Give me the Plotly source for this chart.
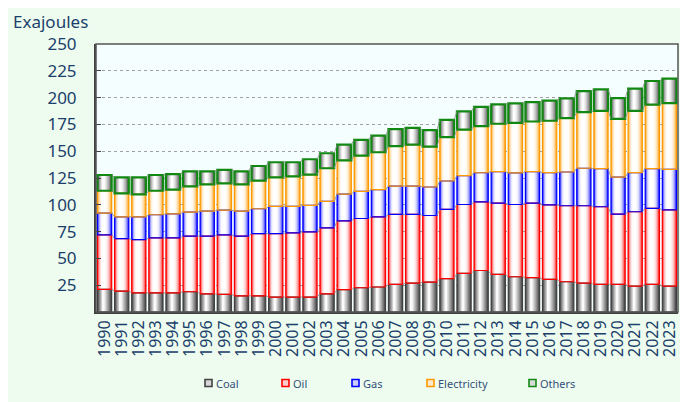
import plotly.graph_objects as go
import numpy as np

years = list(range(1990, 2024))
year_labels = [str(y) for y in years]

coal = [21.1, 19.5, 17.9, 17.9, 17.9, 18.9, 17.0, 16.4, 15.1, 15.1, 13.9, 13.9, 13.9, 17.0, 20.8, 22.6, 23.3,
        25.7, 27.0, 27.9, 31.1, 36.0, 38.7, 35.1, 32.9, 32.0, 30.4, 28.2, 27.0, 25.7, 25.7, 24.2, 25.7, 24.2]
oil = [50.8, 49.0, 49.7, 51.2, 51.2, 51.8, 53.7, 55.5, 55.6, 58.1, 59.3, 59.9, 60.8, 61.5, 64.2, 64.6, 65.5,
       65.3, 64.0, 62.1, 64.6, 64.3, 64.1, 66.5, 67.4, 69.6, 69.6, 70.9, 72.1, 72.5, 65.6, 69.3, 70.9, 71.1]
gas = [20.3, 20.3, 21.2, 21.6, 22.5, 22.5, 23.4, 23.1, 23.4, 23.1, 25.3, 24.7, 24.7, 24.7, 25.0, 25.3, 25.3,
       26.5, 26.5, 26.6, 26.5, 26.9, 27.1, 29.3, 29.4, 29.3, 30.0, 31.5, 35.0, 35.5, 34.6, 36.5, 37.1, 37.8]
electricity = [20.9, 21.8, 20.9, 22.4, 22.5, 24.0, 25.0, 25.0, 25.0, 26.2, 27.1, 28.1, 28.7, 30.9, 31.5, 33.4, 34.9,
               37.2, 38.7, 37.7, 40.9, 43.0, 43.5, 44.7, 46.8, 46.8, 48.4, 50.3, 52.4, 54.0, 54.3, 57.7, 59.7, 61.8]
others = [14.7, 15.0, 15.9, 14.7, 14.6, 14.0, 12.1, 12.5, 12.1, 13.7, 14.1, 13.1, 14.4, 14.0, 14.7, 14.7, 15.6,
          15.9, 15.6, 15.3, 16.2, 16.9, 17.9, 18.1, 18.1, 18.1, 18.7, 18.4, 19.6, 20.0, 19.4, 20.6, 22.1, 22.8]

y_ticks = [25, 50, 75, 100, 125, 150, 175, 200, 225, 250]
series_names = ["Coal", "Oil", "Gas", "Electricity", "Others"]

# styling per series: gradient edge colour, outline colour, outline width, gradient exponent
styles = [
    ((58, 58, 58), "#404040", 1.2, 1.2),
    ((255, 0, 0), "#FF0000", 1.2, 3.0),
    ((0, 0, 255), "#0000FF", 1.2, 3.0),
    ((255, 153, 0), "#FF9900", 1.2, 3.0),
    ((70, 70, 70), "#118811", 2.2, 1.6),
]
values = [coal, oil, gas, electricity, others]

W = 0.83
C = 0.42
N = 10

FIG_W, FIG_H = 688, 402
ML, MT = 88, 36
PW, PH = 582, 268
MR = FIG_W - ML - PW
MB = FIG_H - MT - PH


def mix(rgb, t):
    r, g, b = [int(round(v + (255 - v) * t)) for v in rgb]
    return f"rgb({r},{g},{b})"


def px_to_paper(xf, yf):
    return (xf - ML) / PW, (MT + PH - yf) / PH


fig = go.Figure()
base = np.zeros(len(years))
tops = []
outlines = []
for name, vals, (edge, outline, lw, ex) in zip(series_names, values, styles):
    vals = np.array(vals, dtype=float)
    for k in range(N):
        t = k / N
        left = t * C * W
        right = W - t * (1 - C) * W
        tm = (k + 0.5) / N
        f = 1 - (1 - tm) ** ex
        fig.add_trace(go.Bar(
            x=years, y=vals, base=base.copy(), width=right - left, offset=-W / 2 + left,
            marker=dict(color=mix(edge, f), line=dict(width=0)),
            showlegend=False, hoverinfo="skip"))
    outlines.append(go.Bar(
        x=years, y=vals, base=base.copy(), width=W, offset=-W / 2,
        marker=dict(color="rgba(0,0,0,0)", line=dict(color=outline, width=lw)),
        showlegend=False, name=name))
    base = base + vals
    tops.append(base.copy())

for tr in outlines:
    fig.add_trace(tr)

# series connector lines
for top in tops:
    xs, ys = [], []
    for i in range(len(years) - 1):
        xs += [years[i] + W / 2, years[i + 1] - W / 2, None]
        ys += [top[i], top[i + 1], None]
    fig.add_trace(go.Scatter(x=xs, y=ys, mode="lines", line=dict(color="#8a8a8a", width=0.8),
                             showlegend=False, hoverinfo="skip"))

# manual legend (symbol rectangles + text)
legend_x = [197, 274, 344, 419, 521]   # symbol left edges in figure px
legend_y = 375
shapes = [
    dict(type="rect", xref="paper", yref="paper", x0=0, x1=1, y0=0, y1=1,
         fillcolor="rgba(0,0,0,0)", line=dict(width=1.5, color="#555555"), layer="above"),
]
annotations = []
for name, (edge, outline, lw, ex), lx in zip(series_names, styles, legend_x):
    x0, y0 = px_to_paper(lx, legend_y - 3.5)
    x1, y1 = px_to_paper(lx + 7, legend_y + 3.5)
    shapes.append(dict(type="rect", xref="paper", yref="paper", x0=x0, x1=x1, y0=y1, y1=y0,
                       fillcolor=mix(edge, 0.8), line=dict(color=outline, width=1.6), layer="above"))
    tx, ty = px_to_paper(lx + 9, legend_y)
    annotations.append(dict(text=name, xref="paper", yref="paper", x=tx, y=ty, xanchor="left",
                            yanchor="middle", showarrow=False,
                            font=dict(size=11, color="#34507A", family="Noto Sans")))

txt = "#1B3F6B"
fig.update_layout(
    width=FIG_W, height=FIG_H,
    barmode="overlay",
    paper_bgcolor="#EEFCEF",
    plot_bgcolor="#F4FEFE",
    margin=dict(l=ML, r=MR, t=MT, b=MB),
    font=dict(family="Noto Sans", color=txt, size=17),
    showlegend=False,
    title=dict(text="Exajoules", x=5 / FIG_W, xanchor="left", xref="container",
               y=1 - 8 / FIG_H, yanchor="top", yref="container",
               font=dict(size=17, color=txt)),
    shapes=shapes,
    annotations=annotations,
    xaxis=dict(range=[years[0] - 0.5, years[-1] + 0.5], tickmode="array",
               tickvals=years, ticktext=year_labels, tickangle=-90,
               tickfont=dict(size=16, color=txt), showgrid=False, zeroline=False,
               showline=True, linecolor="#404040", linewidth=2, ticks=""),
    yaxis=dict(range=[0, 250], tickmode="array", tickvals=y_ticks,
               ticktext=[str(v) for v in y_ticks],
               tickfont=dict(size=17, color=txt), showgrid=True, gridcolor="#A0A0A0",
               griddash="dot", gridwidth=1, zeroline=False,
               showline=True, linecolor="#404040", linewidth=2,
               ticks="inside", ticklen=5, tickcolor="#404040", ticklabelstandoff=14),
)

fig.write_html("out.html")
